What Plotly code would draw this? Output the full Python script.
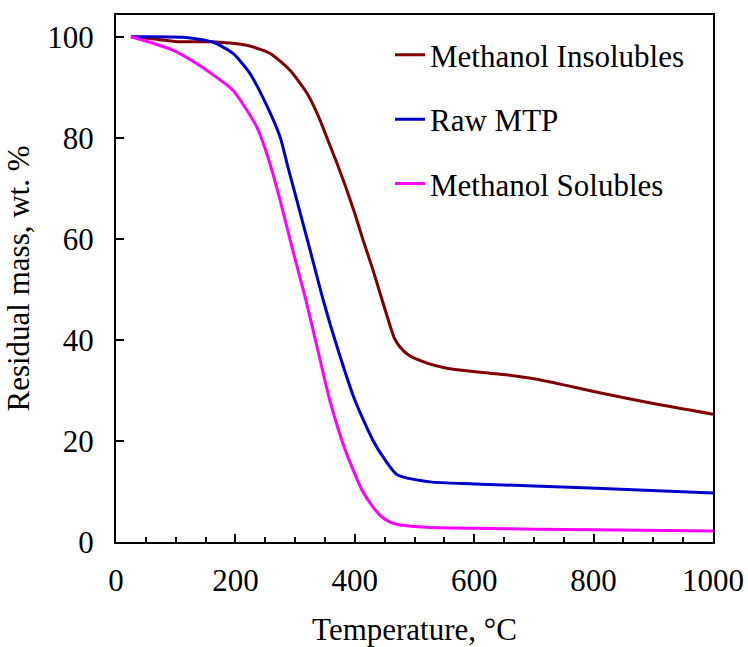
import plotly.graph_objects as go

# Data
temp_ins = [25, 60, 107, 160, 219, 258, 291, 320, 340, 355, 370, 385, 400, 414, 430, 445, 458, 466, 475, 490, 521, 554, 626, 660, 700, 750, 800, 900, 1000]
mass_ins = [100, 99.6, 99.0, 99.0, 98.3, 96.7, 93.4, 88.8, 84.0, 79.5, 75.0, 70.2, 65.0, 59.7, 54.0, 48.2, 43.2, 40.4, 38.7, 37.0, 35.4, 34.4, 33.4, 33.0, 32.3, 31.1, 29.8, 27.4, 25.3]

temp_raw = [25, 112, 163, 196, 224, 252, 275, 288, 303, 325, 347, 372, 400, 430, 451, 471, 526, 600, 794, 1000]
mass_raw = [100, 99.9, 98.9, 96.7, 92.8, 86.5, 80.1, 74.2, 67.6, 57.8, 47.9, 38.0, 28.1, 20.2, 16.2, 13.3, 11.9, 11.5, 10.7, 9.7]

temp_sol = [25, 57, 96, 135, 168, 196, 219, 236, 255, 275, 296, 318, 338, 358, 384, 412, 430, 445, 460, 480, 520, 600, 800, 1000]
mass_sol = [100, 98.9, 97.3, 94.7, 92.0, 89.4, 85.5, 82.1, 76.0, 67.6, 57.8, 47.9, 38.0, 28.1, 18.2, 10.3, 7.0, 5.0, 3.9, 3.3, 2.9, 2.7, 2.4, 2.2]

names = ["Methanol Insolubles", "Raw MTP", "Methanol Solubles"]
colors = ["#800000", "#0000CC", "#FF00FF"]

FONT = "Liberation Serif, Times New Roman, serif"
FS = 31

fig = go.Figure()
for i, (t, m) in enumerate([(temp_ins, mass_ins), (temp_raw, mass_raw), (temp_sol, mass_sol)]):
    fig.add_trace(go.Scatter(
        x=t, y=m, mode="lines", name=names[i], legendgroup=names[i],
        line=dict(color=colors[i], width=3, shape="spline", smoothing=0.6),
    ))

fig.update_layout(
    width=748, height=647,
    margin=dict(l=116, r=35, t=15, b=105, autoexpand=False),
    paper_bgcolor="white", plot_bgcolor="white",
    font=dict(family=FONT, size=FS, color="black"),
    showlegend=True,
    legend=dict(
        x=0.459, y=0.975, xanchor="left", yanchor="top",
        bgcolor="rgba(0,0,0,0)", borderwidth=0,
        font=dict(family=FONT, size=FS, color="black"),
        tracegroupgap=21,
    ),
    xaxis=dict(
        range=[0, 1000], dtick=200, tick0=0, automargin=False,
        showgrid=False, zeroline=False,
        showline=True, linecolor="black", linewidth=2, mirror=True,
        ticks="inside", ticklen=8, tickwidth=2, tickcolor="black",
        minor=dict(dtick=50, ticks="inside", ticklen=5, tickwidth=2, tickcolor="black", showgrid=False),
        tickfont=dict(family=FONT, size=FS, color="black"),
        ticklabelstandoff=10,
        title=dict(text="Temperature, °C", font=dict(family=FONT, size=FS, color="black"), standoff=22),
    ),
    yaxis=dict(
        range=[0, 104.3], dtick=20, tick0=0, automargin=False,
        showgrid=False, zeroline=False,
        showline=True, linecolor="black", linewidth=2, mirror=True,
        ticks="inside", ticklen=8, tickwidth=2, tickcolor="black",
        tickfont=dict(family=FONT, size=FS, color="black"),
        ticklabelstandoff=14,
        title=dict(text="Residual mass, wt. %", font=dict(family=FONT, size=FS, color="black"), standoff=8),
    ),
)

fig.write_html("out.html")
